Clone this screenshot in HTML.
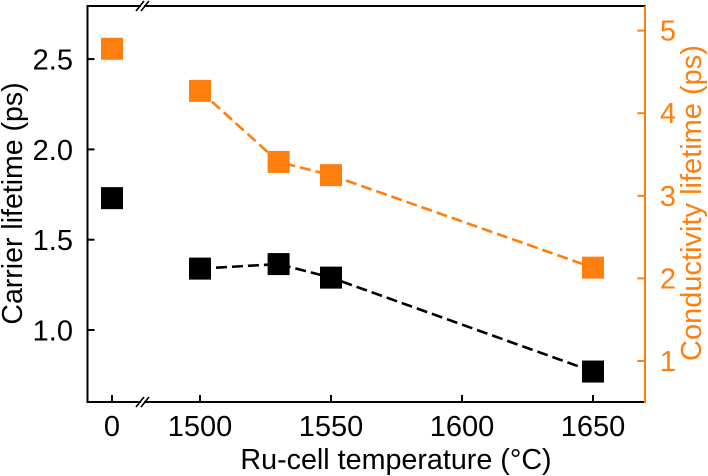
<!DOCTYPE html>
<html>
<head>
<meta charset="utf-8">
<style>
html,body{margin:0;padding:0;background:#fff;width:708px;height:476px;overflow:hidden}
svg{display:block}
text{font-family:"Liberation Sans",Arial,sans-serif}
</style>
</head>
<body>
<svg id="chart" width="708" height="476" viewBox="0 0 708 476"></svg>
<script>
const breakTickLabels = ['0'];
const xTicks = [1500, 1550, 1600, 1650];
const leftTicks = [1.0, 1.5, 2.0, 2.5];
const rightTicks = [1, 2, 3, 4, 5];
const temperatures = [1500, 1530, 1550, 1650];
const carrierAtZero = 1.73;
const conductivityAtZero = 4.78;
const carrierLifetime = [1.34, 1.365, 1.29, 0.77];
const conductivityLifetime = [4.27, 3.41, 3.25, 2.13];

const ORANGE = '#ff7f0e';
const L = 87.5, R = 645.5, T = 6, B = 402;
const svg = document.getElementById('chart');
const NS = 'http://www.w3.org/2000/svg';
const xScale = v => 200 + (v - 1500) * 2.62;
const xZero = 112;
const yLeft = v => 330 + (1.0 - v) * 180.6;
const yRight = v => 361 + (1 - v) * 82.6;

function add(tag, attrs, parent) {
  const el = document.createElementNS(NS, tag);
  for (const k in attrs) el.setAttribute(k, attrs[k]);
  (parent || svg).appendChild(el);
  return el;
}
function line(x1, y1, x2, y2, stroke, w) {
  return add('line', {x1, y1, x2, y2, stroke, 'stroke-width': w});
}
function label(str, x, y, size, fill, anchor) {
  const t = add('text', {x, y, 'font-size': size, fill, 'text-anchor': anchor || 'middle'});
  t.textContent = str;
  return t;
}

// Spines
let el;
el = line(L, T, R, T, '#000', 2);


el = line(L, B, R, B, '#000', 2);


el = line(L, T - 1, L, B + 1, '#000', 2);


el = line(R - 0.5, T, R - 0.5, B + 1, ORANGE, 2);



// Axis break marks
[T, B].forEach(y => {
  el = add('rect', {x: 141, y: y - 2, width: 3, height: 4, fill: '#fff'});
  
  
  [-2.5, 2.5].forEach(dx => {
    el = line(138.5 + dx, y + 5, 146.5 + dx, y - 5, '#000', 1.6);
    
    
  });
});

// X ticks
breakTickLabels.forEach(s => {
  el = line(xZero, B, xZero, B - 7, '#000', 2);
  
  
  el = label(s, xZero, 436, 29, '#000');
  
  
});
xTicks.forEach(v => {
  el = line(xScale(v), B, xScale(v), B - 7, '#000', 2);
  
  
  el = label(String(v), xScale(v), 436, 29, '#000');
  
  
});

// Left ticks
leftTicks.forEach(v => {
  el = line(L, yLeft(v), L + 7, yLeft(v), '#000', 2);
  
  
  el = label(v.toFixed(1), 73, yLeft(v) + 10.5, 29, '#000', 'end');
  
  
});

// Right ticks
rightTicks.forEach(v => {
  el = line(R, yRight(v), R - 8, yRight(v), ORANGE, 2);
  
  
  el = label(String(v), 676, yRight(v) + 10, 29, ORANGE, 'end');
  
  
});

// Dashed series lines
function dashed(values, yFn, color, name) {
  const pts = temperatures.map((t, i) => xScale(t) + ',' + yFn(values[i])).join(' ');
  const p = add('polyline', {points: pts, fill: 'none', stroke: color, 'stroke-width': 2.6, 'stroke-dasharray': '11 5'});
  
  
}
dashed(conductivityLifetime, yRight, ORANGE, 'conductivity-line');
dashed(carrierLifetime, yLeft, '#000', 'carrier-line');

// Markers
function square(x, y, color, name) {
  const s = add('rect', {x: x - 11, y: y - 11, width: 22, height: 22, fill: color});
  
  
}
square(xZero, yRight(conductivityAtZero), ORANGE, 'conductivity-point');
square(xZero, yLeft(carrierAtZero), '#000', 'carrier-point');
temperatures.forEach((t, i) => {
  square(xScale(t), yRight(conductivityLifetime[i]), ORANGE, 'conductivity-point');
  square(xScale(t), yLeft(carrierLifetime[i]), '#000', 'carrier-point');
});

// Axis titles
el = label('Ru-cell temperature (°C)', 396, 469, 28.7, '#000');


el = label('Carrier lifetime (ps)', 0, 0, 28.5, '#000');
el.setAttribute('transform', 'translate(22,203.5) rotate(-90)');


el = label('Conductivity lifetime (ps)', 0, 0, 29, ORANGE);
el.setAttribute('transform', 'translate(701,203) rotate(-90)');


</script>
</body>
</html>
